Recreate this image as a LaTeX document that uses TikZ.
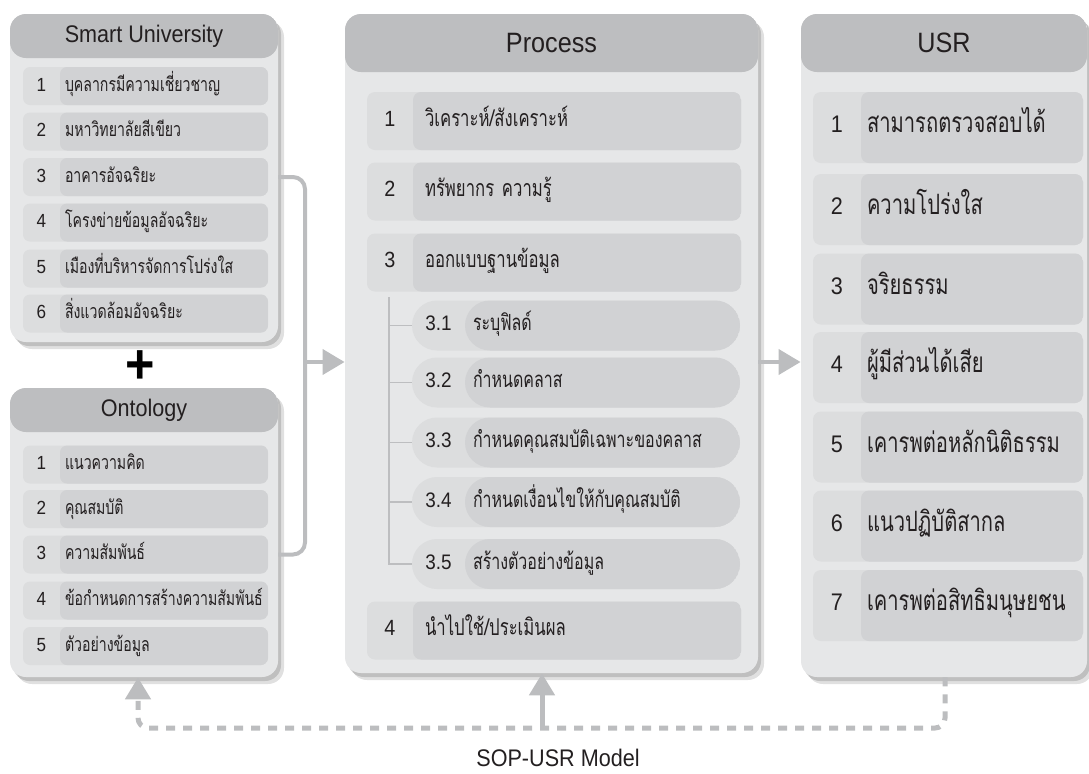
\documentclass[tikz,border=0pt]{standalone}
\usepackage{fontspec}
\setmainfont[FakeStretch=0.9]{Liberation Sans}
\newfontfamily\thaifont[Script=Thai,FakeStretch=0.72]{Loma}
\usetikzlibrary{arrows.meta, shadows, calc}

\definecolor{panelgray}{HTML}{E6E7E8}
\definecolor{headgray}{HTML}{BDBEC0}
\definecolor{itemgray}{HTML}{D1D2D4}
\definecolor{numgray}{HTML}{DCDDDE}
\definecolor{linkgray}{HTML}{BCBDBF}
\definecolor{inkgray}{HTML}{231F20}

% number cell: width, size, number
\newcommand{\numcol}[3]{\makebox[#1][c]{\rmfamily\fontsize{#2}{#2}\selectfont #3}}

\begin{document}
\begin{tikzpicture}[
    x=0.5pt, y=-0.5pt,
    panel/.style={rectangle, rounded corners=8pt, fill=panelgray, inner sep=0pt,
        drop shadow={shadow xshift=3pt, shadow yshift=-3.5pt, opacity=.12, fill=black},
        drop shadow={shadow xshift=1.5pt, shadow yshift=-2pt, opacity=.15, fill=black},
        path picture={\fill[headgray] (path picture bounding box.north west) rectangle ([yshift=-#1]path picture bounding box.north east);}},
    headtext/.style={text=inkgray, inner sep=0pt},
    item/.style={rectangle, fill=numgray, inner sep=0pt, align=left, text=inkgray,
        text height=0.75em, text depth=0.25em,
        path picture={\fill[itemgray] ([xshift=#1]path picture bounding box.south west) rectangle (path picture bounding box.north east);}},
    suitem/.style={item=18.5pt, rounded corners=3.5pt, minimum width=122.5pt, text width=122.5pt, minimum height=19pt, font=\thaifont\fontsize{9.8}{12}\selectfont},
    pritem/.style={item=23pt, rounded corners=4pt, minimum width=187pt, text width=187pt, minimum height=29pt, font=\thaifont\fontsize{11.6}{13}\selectfont},
    subitem/.style={item=26.5pt, rounded corners=12.5pt, minimum width=164pt, text width=164pt, minimum height=25pt, font=\thaifont\fontsize{11.1}{13}\selectfont},
    usitem/.style={item=24pt, rounded corners=4pt, minimum width=135pt, text width=135pt, minimum height=35.5pt, font=\thaifont\fontsize{14}{16}\selectfont},
    link/.style={draw=linkgray, line width=2pt},
    arrow/.style={link, -{Triangle[width=12.5pt, length=11pt]}},
    feedback/.style={draw=linkgray, line width=2.5pt, dash pattern=on 4.5pt off 4pt, rounded corners=5pt, -{Triangle[width=12.5pt, length=11pt]}},
    tree/.style={draw=headgray, line width=0.6pt}
]
\useasboundingbox (0,0) rectangle (1089,773);

% Panels
\node[panel=22pt, minimum width=134pt, minimum height=164pt] (su) at (144,178) {};
\node[panel=22pt, minimum width=134pt, minimum height=144.5pt] (on) at (144,532.5) {};
\node[panel=29pt, minimum width=206.5pt, minimum height=329.5pt] (pr) at (551.5,343.5) {};
\node[panel=29pt, minimum width=143pt, minimum height=331.5pt] (usr) at (944,345.5) {};

\node[headtext, font=\fontsize{12}{14}\selectfont] (sutitle) at (144,36) {Smart University};
\node[headtext, font=\fontsize{12}{14}\selectfont] (ontitle) at (144,410) {Ontology};
\node[headtext, font=\fontsize{14}{16}\selectfont] (prtitle) at (551.5,43) {Process};
\node[headtext, font=\fontsize{14}{16}\selectfont] (ustitle) at (944,43) {USR};

\node[font=\fontsize{28}{28}\bfseries\selectfont, inner sep=0pt] (plus) at (140,367) {+};

% Smart University
\node[suitem] (su1) at (145.5,86) {\numcol{18.5pt}{9.5}{1}\kern2.5pt\mbox{บุคลากรมีความเชี่ยวชาญ}};
\node[suitem] (su2) at (145.5,131.5) {\numcol{18.5pt}{9.5}{2}\kern2.5pt\mbox{มหาวิทยาลัยสีเขียว}};
\node[suitem] (su3) at (145.5,177) {\numcol{18.5pt}{9.5}{3}\kern2.5pt\mbox{อาคารอัจฉริยะ}};
\node[suitem] (su4) at (145.5,222.5) {\numcol{18.5pt}{9.5}{4}\kern2.5pt\mbox{โครงข่ายข้อมูลอัจฉริยะ}};
\node[suitem] (su5) at (145.5,268.5) {\numcol{18.5pt}{9.5}{5}\kern2.5pt\mbox{เมืองที่บริหารจัดการโปร่งใส}};
\node[suitem] (su6) at (145.5,313.5) {\numcol{18.5pt}{9.5}{6}\kern2.5pt\mbox{สิ่งแวดล้อมอัจฉริยะ}};

% Ontology
\node[suitem] (on1) at (145.5,464.5) {\numcol{18.5pt}{9.5}{1}\kern2.5pt\mbox{แนวความคิด}};
\node[suitem] (on2) at (145.5,509) {\numcol{18.5pt}{9.5}{2}\kern2.5pt\mbox{คุณสมบัติ}};
\node[suitem] (on3) at (145.5,554.5) {\numcol{18.5pt}{9.5}{3}\kern2.5pt\mbox{ความสัมพันธ์}};
\node[suitem] (on4) at (145.5,600.5) {\numcol{18.5pt}{9.5}{4}\kern2.5pt\mbox{ข้อกำหนดการสร้างความสัมพันธ์}};
\node[suitem] (on5) at (145.5,646) {\numcol{18.5pt}{9.5}{5}\kern2.5pt\mbox{ตัวอย่างข้อมูล}};

% Process
\node[pritem] (pr1) at (554,121) {\numcol{23pt}{11}{1}\kern6pt\mbox{วิเคราะห์/สังเคราะห์}};
\node[pritem] (pr2) at (554,191.5) {\numcol{23pt}{11}{2}\kern6pt\mbox{ทรัพยากร ความรู้}};
\node[pritem] (pr3) at (554,262.5) {\numcol{23pt}{11}{3}\kern6pt\mbox{ออกแบบฐานข้อมูล}};
\node[pritem] (pr4) at (554,630.5) {\numcol{23pt}{11}{4}\kern6pt\mbox{นำไปใช้/ประเมินผล}};

\node[subitem] (p31) at (576,325.5) {\numcol{26.5pt}{10.5}{3.1}\kern4pt\mbox{ระบุฟิลด์}};
\node[subitem] (p32) at (576,382.5) {\numcol{26.5pt}{10.5}{3.2}\kern4pt\mbox{กำหนดคลาส}};
\node[subitem] (p33) at (576,442.5) {\numcol{26.5pt}{10.5}{3.3}\kern4pt\mbox{กำหนดคุณสมบัติเฉพาะของคลาส}};
\node[subitem] (p34) at (576,502) {\numcol{26.5pt}{10.5}{3.4}\kern4pt\mbox{กำหนดเงื่อนไขให้กับคุณสมบัติ}};
\node[subitem] (p35) at (576,564) {\numcol{26.5pt}{10.5}{3.5}\kern4pt\mbox{สร้างตัวอย่างข้อมูล}};

% USR
\node[usitem] (us1) at (948,127.5) {\numcol{24pt}{12}{1}\kern3pt\mbox{สามารถตรวจสอบได้}};
\node[usitem] (us2) at (948,209.5) {\numcol{24pt}{12}{2}\kern3pt\mbox{ความโปร่งใส}};
\node[usitem] (us3) at (948,289) {\numcol{24pt}{12}{3}\kern3pt\mbox{จริยธรรม}};
\node[usitem] (us4) at (948,367.5) {\numcol{24pt}{12}{4}\kern3pt\mbox{ผู้มีส่วนได้เสีย}};
\node[usitem] (us5) at (948,447) {\numcol{24pt}{12}{5}\kern3pt\mbox{เคารพต่อหลักนิติธรรม}};
\node[usitem] (us6) at (948,526) {\numcol{24pt}{12}{6}\kern3pt\mbox{แนวปฏิบัติสากล}};
\node[usitem] (us7) at (948,605.5) {\numcol{24pt}{12}{7}\kern3pt\mbox{เคารพต่อสิทธิมนุษยชน}};

\node[text=inkgray, font=\fontsize{12}{14}\selectfont] (model) at (558,758) {SOP-USR Model};

% Tree of step 3
\coordinate (treetop) at (389,297);
\draw[tree] (treetop) |- (p31.west);
\draw[tree] (treetop) |- (p32.west);
\draw[tree] (treetop) |- (p33.west);
\draw[tree] (treetop) |- (p34.west);
\draw[tree] (treetop) |- (p35.west);

% Connectors
\coordinate (brk) at (305,362);
\draw[link, rounded corners=6pt] (su3 -| su.east) -| (brk) |- (on3 -| on.east);
\draw[arrow] (brk) -- (brk -| pr.west);
\draw[arrow] (brk -| pr.east) -- (brk -| usr.west);

\coordinate (fbl) at (138,728);
\coordinate (fbm) at (542,728);
\coordinate (fbr) at (945,728);
\draw[feedback] (usr.south -| fbr) -- (fbr) -- (fbl) -- (on.south -| fbl);
\draw[arrow, line width=2.5pt] (fbm) -- (fbm |- pr.south);

\end{tikzpicture}
\end{document}
